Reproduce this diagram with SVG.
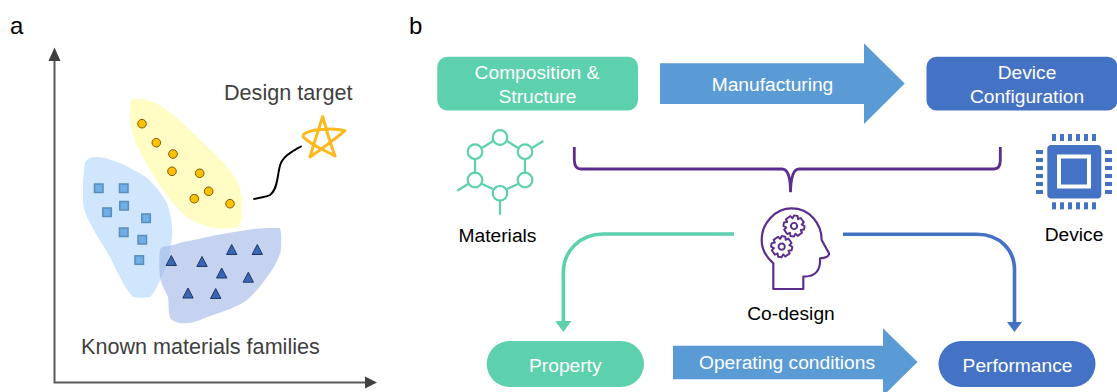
<svg xmlns="http://www.w3.org/2000/svg" width="1117" height="392" viewBox="0 0 1117 392">
<style>
text{font-family:"Liberation Sans",Arial,sans-serif}
.g{fill:#404040;font-size:21.600px}
.w{fill:#fff;font-size:19.200px;text-anchor:middle}
.k{fill:#000;font-size:19.200px;text-anchor:middle}
.p{font-size:24px;fill:#000}
.c{fill:#FFC000;stroke:#7a5a00;stroke-width:1}
.s{fill:#6FAEE6;stroke:#5b8db8;stroke-width:1.5}
.t{fill:#3A66B5;stroke:#1F3864;stroke-width:1}
.ax{fill:none;stroke:#595959;stroke-width:2}
.mol{fill:none;stroke:#5DD0AE;stroke-width:2.200}
.ic{fill:none;stroke:#5B2D8E;stroke-width:6.500}
</style>
<defs>
<g id="gear"><path d="M-5-30H5L8-21 15-26 26-15 21-8 30-5V5L21 8 26 15 15 26 8 21 5 30H-5L-8 21-15 26-26 15-21 8-30 5V-5L-21-8-26-15-15-26-8-21Z" fill="none" stroke="#5B2D8E" stroke-width="5.500" stroke-linejoin="round"/><circle r="9" fill="none" stroke="#5B2D8E" stroke-width="5.500"/></g>
</defs>
<text class="p" x="10" y="34">a</text>
<text class="p" x="409" y="34">b</text>
<g id="axes">
<path class="ax" d="M54.500 60V382.500H366"/>
<path d="M54.500 47.500L48.500 61H60.500Z" fill="#404040"/>
<path d="M377 382.500L365 376.500V388.500Z" fill="#404040"/>
</g>
<g id="family-yellow">
<path d="M131 100C137 97 145 100 150 101C160 104 165 109 173 115C182 122 190 130 197 137C208 148 218 156 227 167C234 176 239 182 240 190C243 200 242 210 242 217C241 223 240 226 237 227C230 229 220 229 213 228C204 225 195 223 187 217C177 209 170 199 163 190C155 179 149 168 143 157C138 147 133 140 132 130C130 118 129 108 131 100Z" fill="#FFFDC4"/>
<g class="c"><circle cx="142" cy="123.700" r="4.300"/><circle cx="156.300" cy="142.700" r="4.300"/><circle cx="173" cy="154" r="4.300"/><circle cx="172" cy="171.300" r="4.300"/><circle cx="199.700" cy="173.300" r="4.300"/><circle cx="208.700" cy="191.300" r="4.300"/><circle cx="194.300" cy="198.700" r="4.300"/><circle cx="230" cy="203.700" r="4.300"/></g>
</g>
<g id="family-blue">
<path d="M85 163C88 157 93 157 97 157C106 157 113 161 120 163C130 168 139 172 147 178C156 186 162 195 167 203C170 212 172 222 172 230C172 240 171 247 170 253C167 263 164 272 160 280C157 287 154 293 150 297C145 298 138 298 133 297C129 293 126 288 123 283C118 274 114 265 110 257C103 245 96 235 90 223C86 215 83 208 83 200C83 187 83 173 85 163Z" fill="#CFE6FC"/>
<g class="s"><rect x="94.500" y="184" width="8.500" height="8.500"/><rect x="119.500" y="184" width="8.500" height="8.500"/><rect x="119.800" y="201.500" width="8.500" height="8.500"/><rect x="102.800" y="208" width="8.500" height="8.500"/><rect x="141.800" y="214" width="8.500" height="8.500"/><rect x="119.500" y="228" width="8.500" height="8.500"/><rect x="138" y="235.500" width="8.500" height="8.500"/><rect x="135" y="255.800" width="8.500" height="8.500"/></g>
</g>
<g id="family-indigo">
<path d="M160 250C161 245 168 247 173 245C184 241 196 240 207 237C220 234 234 232 247 230C258 228 270 228 280 228C282 235 281 243 281 250C279 258 275 266 270 273C263 283 256 292 247 300C237 307 225 311 213 315C204 318 195 323 187 323C180 324 173 322 170 318C168 311 169 304 168 297C165 290 161 284 160 277C159 268 159 258 160 250Z" fill="#9DB4E6" fill-opacity=".58"/>
<g class="t"><path d="M171.300 255.500L176.500 265.500H166.100Z"/><path d="M202 256.500L207.200 266.500H196.800Z"/><path d="M231.700 244.500L236.900 254.500H226.500Z"/><path d="M257.300 244.500L262.500 254.500H252.100Z"/><path d="M221.700 268L226.900 278H216.500Z"/><path d="M248.300 272.200L253.500 282.200H243.100Z"/><path d="M188 288L193.200 298H182.800Z"/><path d="M215.700 288.500L220.900 298.500H210.500Z"/></g>
</g>
<g id="design-target">
<path d="M310 157C314 143 319 128 322.700 116.700C326 128 330 143 335 156C325 150 312 146 303.300 137C300 130 332 127 345 130.700C335 139 322 149 310 157Z" fill="none" stroke="#FFB81C" stroke-width="3" stroke-linejoin="round"/>
<path d="M253.300 199.300C260 197 267 197 270 195C275 191 276 186 277 181C279 172 279 165 282 161C286 154 295 150 301.700 146" fill="none" stroke="#000" stroke-width="2"/>
<text class="g" x="224" y="100">Design target</text>
</g>
<text class="g" x="81" y="354">Known materials families</text>
<g id="composition"><rect x="437.300" y="56.800" width="200.700" height="53.700" rx="10" fill="#5DD0AE"/><text class="w" x="537" y="79">Composition &amp;</text><text class="w" x="537.500" y="103">Structure</text></g>
<g id="device-config"><rect x="926.500" y="56.800" width="191" height="53.700" rx="10" fill="#4472C4"/><text class="w" x="1027" y="79">Device</text><text class="w" x="1027" y="103">Configuration</text></g>
<g id="manufacturing"><path d="M660 63.300H864V43.300L904.700 83.500 864 124V104H660Z" fill="#5B9BD5"/><text class="w" x="772.500" y="91">Manufacturing</text></g>
<g id="operating"><path d="M673 345.700H883V328.300L917.500 362 883 396V379.300H673Z" fill="#5B9BD5"/><text class="w" x="787" y="369">Operating conditions</text></g>
<g id="property"><rect x="486.700" y="341" width="157.300" height="46" rx="23" fill="#5DD0AE"/><text class="w" x="565.300" y="372">Property</text></g>
<g id="performance"><rect x="938.500" y="341" width="157" height="46" rx="23" fill="#4472C4"/><text class="w" x="1017.500" y="372">Performance</text></g>
<g id="materials">
<g class="mol"><circle cx="500" cy="137.500" r="7.300"/><circle cx="525" cy="151.700" r="7.300"/><circle cx="525" cy="180" r="7.300"/><circle cx="500" cy="193.300" r="7.300"/><circle cx="475" cy="180" r="7.300"/><circle cx="475" cy="151.700" r="7.300"/>
<path d="M507 141L518 148M525 159V173M518 184L507 189M493 189L482 184M475 173V159M482 148L493 141M532 148L543.300 141M468 184L457.300 190.700M500 200.500V214.700"/></g>
<text class="k" x="497.500" y="241.500">Materials</text>
</g>
<g id="chip">
<rect x="1047.300" y="145" width="54" height="53.500" rx="4" fill="#4472C4"/>
<rect x="1059" y="156.500" width="30" height="30" fill="none" stroke="#fff" stroke-width="4"/>
<g fill="#4472C4"><rect x="1052" y="134" width="4" height="7"/><rect x="1060" y="134" width="4" height="7"/><rect x="1068" y="134" width="4" height="7"/><rect x="1076" y="134" width="4" height="7"/><rect x="1084" y="134" width="4" height="7"/><rect x="1092" y="134" width="4" height="7"/>
<rect x="1052" y="202.300" width="4" height="7"/><rect x="1060" y="202.300" width="4" height="7"/><rect x="1068" y="202.300" width="4" height="7"/><rect x="1076" y="202.300" width="4" height="7"/><rect x="1084" y="202.300" width="4" height="7"/><rect x="1092" y="202.300" width="4" height="7"/>
<rect x="1036" y="150" width="7" height="4"/><rect x="1036" y="158" width="7" height="4"/><rect x="1036" y="166" width="7" height="4"/><rect x="1036" y="174" width="7" height="4"/><rect x="1036" y="182" width="7" height="4"/><rect x="1036" y="190" width="7" height="4"/>
<rect x="1105" y="150" width="7" height="4"/><rect x="1105" y="158" width="7" height="4"/><rect x="1105" y="166" width="7" height="4"/><rect x="1105" y="174" width="7" height="4"/><rect x="1105" y="182" width="7" height="4"/><rect x="1105" y="190" width="7" height="4"/></g>
<text class="k" x="1074" y="241">Device</text>
</g>
<g id="codesign">
<g transform="translate(730 190) scale(.3333)">
<path class="ic" d="M130 297V220C105 198 95 175 95 150C95 100 135 55 185 55C238 55 275 100 275 150L297 190C298 200 285 205 270 205C272 240 258 260 220 260V297Z" stroke-linejoin="round"/>
<use href="#gear" transform="translate(192 108) rotate(10) scale(1.050)"/><use href="#gear" transform="translate(155 170) rotate(10) scale(1.050)"/>
</g>
<text class="k" x="791" y="320">Co-design</text>
</g>
<g id="connectors" fill="none">
<path d="M574.300 147V160Q574.500 169 581 169H782Q790.500 169 790.500 192.300Q791 169 799 169H994Q1000.300 169 1000.300 160V147" stroke="#5B2D8E" stroke-width="2.800"/>
<path d="M734 234H603C580 234 563.300 251 563.300 273V323" stroke="#5DD0AE" stroke-width="3.600"/>
<path d="M563.300 332L555.300 321H571.300Z" fill="#5DD0AE"/>
<path d="M843 234.300H976.700C1000 234.300 1014.500 250 1014.500 270V323" stroke="#4472C4" stroke-width="3.600"/>
<path d="M1014.500 332L1007 322H1022Z" fill="#4472C4"/>
</g>
</svg>
